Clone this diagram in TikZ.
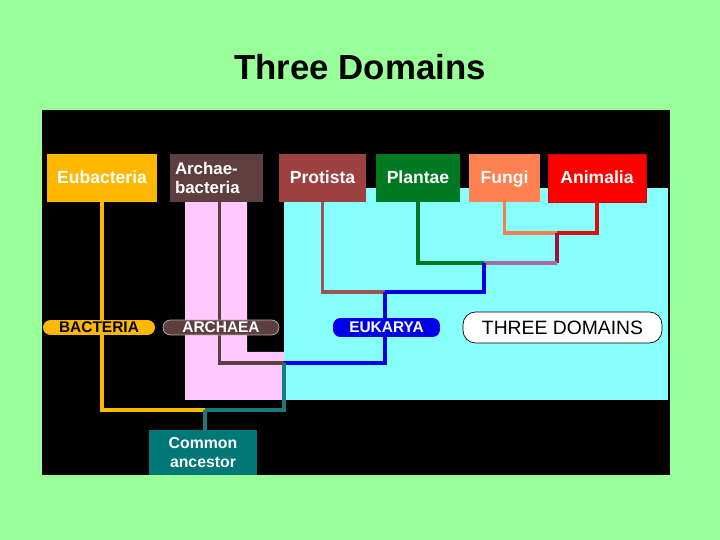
\documentclass[tikz,border=0pt]{standalone}
\usepackage{fontspec}
\setmainfont{Liberation Sans}
\usetikzlibrary{positioning, calc}
\definecolor{slidebg}{HTML}{99FF99}
\definecolor{eukbg}{HTML}{88FFFF}
\definecolor{archbg}{HTML}{FFC8FF}
\definecolor{eubcol}{HTML}{FFB800}
\definecolor{archcol}{HTML}{5E3E3E}
\definecolor{protcol}{HTML}{9C4040}
\definecolor{protline}{HTML}{9A5555}
\definecolor{plantcol}{HTML}{007A22}
\definecolor{fungcol}{HTML}{FF8050}
\definecolor{fungline}{HTML}{F08050}
\definecolor{animcol}{HTML}{FF0000}
\definecolor{animline}{HTML}{D81010}
\definecolor{maroon}{HTML}{A0103C}
\definecolor{mauve}{HTML}{A86AA0}
\definecolor{eukcol}{HTML}{0000E8}
\definecolor{ancline}{HTML}{1A7A7A}
\definecolor{anccol}{HTML}{007878}
\tikzset{
  kingdom/.style  = {rectangle, inner sep=0pt, minimum height=0.96cm,
                     align=center, text=white, text height=1.45ex, text depth=0.35ex,
                     font=\fontsize{10pt}{11.3pt}\selectfont\bfseries},
  domlabel/.style = {rectangle, rounded corners=0.15cm, inner sep=0pt,
                     minimum height=0.3cm, align=center,
                     font=\fontsize{8.8pt}{10pt}\selectfont\bfseries},
  branch/.style   = {line width=1.8pt, line join=miter},
}

\begin{document}
\begin{tikzpicture}[x=0.02cm, y=-0.02cm]

  % ----- slide background -----
  \fill[slidebg] (0,0) rectangle (720,540);
  \useasboundingbox (0,0) rectangle (720,540);
  \node[font=\fontsize{19.8pt}{24pt}\selectfont\bfseries] (title) at (360,67) {Three Domains};

  % ----- panel and shaded domains -----
  \fill[black] (42,110) rectangle (670,475);
  \fill[eukbg] (284,188) rectangle (668,400);
  \fill[archbg] (185,202) -- (247,202) -- (247,352) -- (284,352)
                -- (284,400) -- (185,400) -- cycle;

  % ----- kingdoms -----
  \node[kingdom, fill=eubcol, minimum width=2.2cm] (eub) at (102,178) {Eubacteria};
  \node[kingdom, fill=archcol, text width=1.66cm, inner xsep=0.1cm, align=left,
        text height=, text depth=, font=\fontsize{9.6pt}{11.3pt}\selectfont\bfseries] (arc) at (216.5,178) {Archae-\\bacteria};
  \node[kingdom, fill=protcol, minimum width=1.74cm] (pro) at (322.5,178) {Protista};
  \node[kingdom, fill=plantcol, minimum width=1.68cm] (pla) at (418,178) {Plantae};
  \node[kingdom, fill=fungcol, minimum width=1.42cm] (fun) at (504.5,178) {Fungi};
  \node[kingdom, fill=animcol, draw=animcol!80!black, minimum width=1.96cm] (ani) at (597,178) {Animalia};
  \node[kingdom, fill=anccol, minimum width=2.16cm, minimum height=0.9cm, text height=, text depth=,
        font=\fontsize{9pt}{10.6pt}\selectfont\bfseries] (anc) at (203,452.5) {Common\\ancestor};

  % ----- branch points -----
  \coordinate (jfa) at (557,233);
  \coordinate (jfam) at (557,263);
  \coordinate (jpl) at (484,263);
  \coordinate (jeu) at (385,292);
  \coordinate (jeub) at (385,363);
  \coordinate (jae) at (284,363);
  \coordinate (jroot) at (205,410);

  % ----- tree -----
  \draw[branch, fungline] (fun.south) |- (jfa);
  \draw[branch, animline] (ani.south) |- (jfa);
  \draw[branch, maroon] (jfa) -- (jfam);
  \draw[branch, mauve] (jfam) -- (jpl);
  \draw[branch, plantcol] (pla.south) |- (jpl);
  \draw[branch, eukcol] (jpl) |- (jeu);
  \draw[branch, protline] (pro.south) |- (jeu);
  \draw[branch, eukcol] (jeu) |- (jeub) -- (jae);
  \draw[branch, archcol] ([xshift=1.5]arc.south) |- (jae);
  \draw[branch, ancline] (jae) |- (jroot);
  \draw[branch, eubcol] (eub.south) |- (jroot);
  \draw[branch, ancline] (jroot) -- (jroot |- anc.north);

  % ----- domain labels -----
  \node[domlabel, fill=eubcol, text=black, minimum width=2.24cm] (bac) at (99,327.5) {BACTERIA};
  \node[domlabel, fill=archcol, draw=gray!60, text=white, minimum width=2.32cm] (arl) at (221,327.5) {ARCHAEA};
  \node[domlabel, fill=eukcol, text=white, minimum width=2.14cm, minimum height=0.38cm] (eul) at (386.5,327.5) {EUKARYA};
  \node[domlabel, fill=white, draw=black, rounded corners=0.25cm, minimum width=3.98cm,
        minimum height=0.62cm, font=\fontsize{11pt}{13pt}\selectfont] (three) at (562.5,327.5) {THREE DOMAINS};

\end{tikzpicture}
\end{document}
